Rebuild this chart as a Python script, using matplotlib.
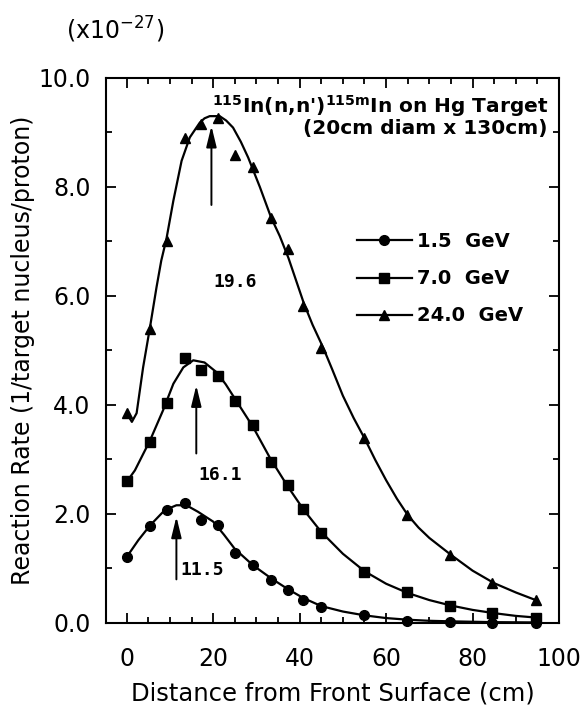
"""
Reaction rate of 115In(n,n')115mIn along a Hg target for three proton energies.
"""

import matplotlib
matplotlib.use("Agg")
import matplotlib.pyplot as plt
from matplotlib.lines import Line2D
from matplotlib.ticker import MultipleLocator

# measured points (x in cm, rate in 1e-27 /target nucleus/proton)
distance = [0, 5.3, 9.3, 13.6, 17.1, 21.2, 25.1, 29.3, 33.3, 37.4, 40.8,
            45.0, 54.9, 64.8, 74.8, 84.6, 94.6]
rate_1p5 = [1.21, 1.78, 2.07, 2.20, 1.89, 1.79, 1.29, 1.06, 0.79, 0.60, 0.42,
            0.29, 0.15, 0.03, 0.01, 0.0, 0.0]
rate_7p0 = [2.60, 3.32, 4.03, 4.86, 4.65, 4.54, 4.08, 3.63, 2.95, 2.53, 2.09,
            1.65, 0.94, 0.56, 0.31, 0.18, 0.10]
rate_24p0 = [3.85, 5.40, 7.01, 8.90, 9.16, 9.27, 8.59, 8.37, 7.44, 6.87, 5.81,
             5.04, 3.39, 1.98, 1.25, 0.73, 0.42]

# fitted curves as drawn in the original figure
fit_x_1p5 = [0, 2.7, 5.4, 8.8, 11.5, 13.8, 16.5, 20, 22.5, 25, 29.2, 33.4,
             37.3, 40.8, 45, 50, 55, 60, 65, 70, 75, 85, 94.6]
fit_y_1p5 = [1.21, 1.52, 1.79, 2.07, 2.16, 2.16, 2.04, 1.86, 1.62, 1.36, 1.06,
             0.82, 0.62, 0.46, 0.31, 0.21, 0.14, 0.09, 0.06, 0.04, 0.03, 0.015,
             0.01]
fit_x_7p0 = [0, 1.9, 5.4, 8.4, 10.8, 13.1, 15.4, 18.0, 20.8, 22.9, 25, 29.2,
             33.2, 37.3, 41, 45, 50, 55, 60, 65, 70, 75, 80, 85, 90, 94.6]
fit_y_7p0 = [2.59, 2.80, 3.35, 3.90, 4.39, 4.69, 4.82, 4.78, 4.60, 4.38, 4.12,
             3.60, 3.02, 2.50, 2.07, 1.67, 1.27, 0.95, 0.72, 0.55, 0.42, 0.32,
             0.24, 0.18, 0.13, 0.10]
fit_x_24p0 = [0, 1.2, 2.3, 3.8, 5.4, 6.9, 8.0, 9.2, 10.8, 12.7, 14.6, 16.9,
              18.0, 19.2, 21.5, 23.0, 24.6, 26.4, 28.1, 30.8, 33.4, 35.4, 37.4,
              39.2, 41, 43, 45.4, 47.5, 50, 52.5, 55, 57.5, 60, 62.5, 65, 67.5,
              70, 75, 80, 85, 90, 94.6]
fit_y_24p0 = [3.85, 3.69, 3.85, 4.69, 5.43, 6.16, 6.65, 7.05, 7.75, 8.48, 8.91,
              9.18, 9.26, 9.30, 9.30, 9.22, 9.09, 8.83, 8.54, 8.00, 7.44, 7.10,
              6.70, 6.28, 5.86, 5.47, 5.06, 4.66, 4.17, 3.76, 3.39, 2.99, 2.62,
              2.28, 1.98, 1.75, 1.56, 1.25, 0.96, 0.73, 0.56, 0.42]

labels = ["1.5  GeV", "7.0  GeV", "24.0  GeV"]
markers = ["o", "s", "^"]
marker_sizes = [7, 6.5, 7.5]

# peak positions: arrow tail / tip heights and label positions
peak_x = [11.5, 16.1, 19.6]
arrow_tail = [0.80, 3.11, 7.67]
arrow_tip = [1.95, 4.36, 9.12]
peak_label_xy = [(17.4, 0.97), (21.5, 2.71), (25.0, 6.25)]

fig = plt.figure(figsize=(5.82, 7.11), dpi=100)
ax = fig.add_axes([0.182, 0.1238, 0.7786, 0.7665])

series = [(distance, rate_1p5, fit_x_1p5, fit_y_1p5),
          (distance, rate_7p0, fit_x_7p0, fit_y_7p0),
          (distance, rate_24p0, fit_x_24p0, fit_y_24p0)]
for (x, y, fx, fy), m, ms in zip(series, markers, marker_sizes):
    ax.plot(fx, fy, color="black", lw=1.6, clip_on=False,
            solid_joinstyle="round")
    ax.plot(x, y, linestyle="none", marker=m, ms=ms, color="black",
            clip_on=False, zorder=3)

for px, t0, t1, (lx, ly), txt in zip(peak_x, arrow_tail, arrow_tip,
                                      peak_label_xy, ["11.5", "16.1", "19.6"]):
    ax.annotate("", xy=(px, t1), xytext=(px, t0),
                arrowprops=dict(arrowstyle="-|>,head_length=0.9,head_width=0.22",
                                color="black", lw=1.4, mutation_scale=14,
                                shrinkA=0, shrinkB=0))
    ax.text(lx, ly, txt, ha="center", va="center", fontsize=13,
            family="DejaVu Sans Mono", fontweight="bold")

ax.text(97.4, 9.49, r"$^{\mathbf{115}}$In(n,n')$^{\mathbf{115m}}$In on Hg Target",
        ha="right", va="center", fontsize=14.5, fontweight="bold")
ax.text(97.4, 9.07, "(20cm diam x 130cm)", ha="right", va="center",
        fontsize=14.5, fontweight="bold")

handles = [Line2D([], [], color="black", lw=1.6, marker=m, ms=ms)
           for m, ms in zip(markers, marker_sizes)]
ax.legend(handles, labels, loc="upper left", bbox_to_anchor=(0.553, 0.717),
          frameon=False, borderpad=0, borderaxespad=0, numpoints=1,
          handlelength=2.85, handletextpad=0.26, labelspacing=0.93,
          prop=dict(size=14, weight="bold"))

ax.set_xlim(-4.8, 100)
ax.set_ylim(0, 10)
ax.xaxis.set_major_locator(MultipleLocator(20))
ax.xaxis.set_minor_locator(MultipleLocator(5))
ax.yaxis.set_minor_locator(MultipleLocator(1))
ax.set_yticks([0, 2, 4, 6, 8, 10])
ax.set_yticklabels(["0.0", "2.0", "4.0", "6.0", "8.0", "10.0"])
ax.tick_params(which="both", direction="in", top=True, right=True, width=1.3)
ax.tick_params(which="major", length=7, labelsize=17)
ax.tick_params(which="minor", length=4)
ax.tick_params(axis="x", which="major", pad=17)
ax.tick_params(axis="y", which="major", pad=11)
for sp in ax.spines.values():
    sp.set_linewidth(1.5)

ax.set_xlabel("Distance from Front Surface (cm)", fontsize=17.5)
ax.set_ylabel("Reaction Rate (1/target nucleus/proton)", fontsize=17)
ax.xaxis.set_label_coords(0.5, -0.108)
ax.yaxis.set_label_coords(-0.157, 0.5)

fig.text(115 / 582, 1 - 30 / 711, r"(x10$^{\mathregular{-27}}$)",
         ha="center", va="center", fontsize=17)

fig.savefig("out.png", dpi=100)
